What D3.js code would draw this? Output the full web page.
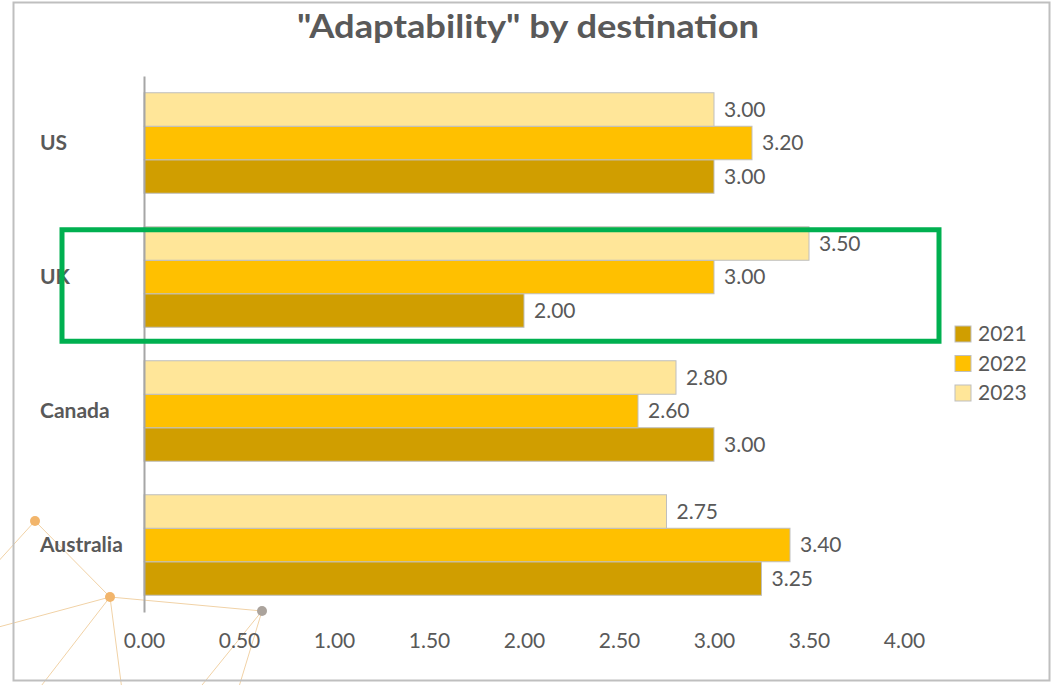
<!DOCTYPE html>
<html>
<head>
<meta charset="utf-8">
<script src="https://cdn.jsdelivr.net/npm/d3@7"></script>
<style>
  html, body { margin: 0; padding: 0; background: #ffffff; }
  svg { display: block; }
  text { font-family: Lato, "Open Sans", "Liberation Sans", sans-serif; }
</style>
</head>
<body>
<svg id="chart" width="1051" height="685"></svg>
<script>
// Chart values
const categories = ["US", "UK", "Canada", "Australia"];
const years = ["2021", "2022", "2023"];
const values2021 = [3.00, 2.00, 3.00, 3.25];
const values2022 = [3.20, 3.00, 2.60, 3.40];
const values2023 = [3.00, 3.50, 2.80, 2.75];
const xTicks = [0, 0.5, 1, 1.5, 2, 2.5, 3, 3.5, 4];
const titleText = "\"Adaptability\" by destination";

const seriesValues = { "2021": values2021, "2022": values2022, "2023": values2023 };
const colors = { "2021": "#D09E00", "2022": "#FFC000", "2023": "#FFE699" };

const svg = d3.select("#chart");
const W = 1051, H = 685;
const margin = { left: 144, right: 146, top: 76, bottom: 73 };
const textColor = "#595959";

// Decorative network in the lower-left corner
const nodes = [
  { x: 35, y: 521, c: "#F2B56B" },
  { x: 110, y: 597, c: "#F2B56B" },
  { x: 262, y: 611, c: "#ABA39C" }
];
const links = [
  [[35, 521], [-5, 565]],
  [[35, 521], [110, 597]],
  [[110, 597], [262, 611]],
  [[110, 597], [-5, 628]],
  [[110, 597], [38, 690]],
  [[110, 597], [122, 690]],
  [[262, 611], [198, 690]],
  [[262, 611], [238, 690]]
];
const deco = svg.append("g");
deco.selectAll("line").data(links).join("line")
  .attr("x1", d => d[0][0]).attr("y1", d => d[0][1])
  .attr("x2", d => d[1][0]).attr("y2", d => d[1][1])
  .attr("stroke", "#F1D2A6").attr("stroke-width", 1);
deco.selectAll("circle").data(nodes).join("circle")
  .attr("cx", d => d.x).attr("cy", d => d.y).attr("r", 5)
  .attr("fill", d => d.c);

// Chart frame
svg.append("rect")
  .attr("x", 13.5).attr("y", 2.5).attr("width", 1036).attr("height", 678)
  .attr("fill", "none").attr("stroke", "#BFBFBF").attr("stroke-width", 2);

// Scales
const x = d3.scaleLinear().domain([0, 4]).range([margin.left, margin.left + 760]);
const y = d3.scaleBand().domain(categories)
  .range([margin.top, H - margin.bottom])
  .paddingInner(0.25).paddingOuter(0.125);
const ySub = d3.scaleBand().domain(["2023", "2022", "2021"]).range([0, y.bandwidth()]);

// Title
svg.append("text")
  .attr("x", 528).attr("y", 38)
  .attr("text-anchor", "middle")
  .attr("font-size", 32).attr("font-weight", "bold")
  .attr("fill", textColor)
  .attr("textLength", 462).attr("lengthAdjust", "spacingAndGlyphs")
  .text(titleText);

// Bars
const groups = svg.append("g").selectAll("g")
  .data(categories).join("g")
  .attr("transform", d => `translate(0,${y(d)})`);

const rows = groups.selectAll("g.bar")
  .data((cat, i) => years.map(yr => ({ year: yr, value: seriesValues[yr][i] })))
  .join("g").attr("class", "bar");

rows.append("rect")
  .attr("x", x(0))
  .attr("y", d => ySub(d.year))
  .attr("width", d => x(d.value) - x(0))
  .attr("height", ySub.bandwidth())
  .attr("fill", d => colors[d.year])
  .attr("stroke", "#BFBFBF").attr("stroke-width", 1);

rows.append("text")
  .attr("x", d => x(d.value) + 10)
  .attr("y", d => ySub(d.year) + ySub.bandwidth() / 2)
  .attr("dy", "0.35em")
  .attr("font-size", 21).attr("fill", textColor)
  .text(d => d3.format(".2f")(d.value));

// Category axis (labels left-aligned inside the frame)
const yAxis = svg.append("g")
  .attr("transform", `translate(${x(0)},0)`)
  .call(d3.axisLeft(y).tickSize(0));
yAxis.select(".domain").attr("stroke", "#A6A6A6").attr("stroke-width", 2);
yAxis.selectAll("text")
  .attr("x", 40 - x(0))
  .attr("text-anchor", "start")
  .attr("font-size", 21).attr("font-weight", "bold").attr("fill", textColor)
  .attr("font-family", "Lato, 'Open Sans', sans-serif");

// Value axis labels
const xAxis = svg.append("g")
  .attr("transform", `translate(0,${H - margin.bottom})`)
  .call(d3.axisBottom(x).tickValues(xTicks).tickFormat(d3.format(".2f")).tickSize(0).tickPadding(21));
xAxis.select(".domain").remove();
xAxis.selectAll("text")
  .attr("font-size", 21).attr("fill", textColor)
  .attr("font-family", "Lato, 'Open Sans', sans-serif");

// Legend
const legend = svg.append("g").attr("transform", "translate(955,326)");
const li = legend.selectAll("g").data(years).join("g")
  .attr("transform", (d, i) => `translate(0,${i * 29.5})`);
li.append("rect").attr("width", 16).attr("height", 16)
  .attr("fill", d => colors[d]).attr("stroke", "#BFBFBF").attr("stroke-width", 1);
li.append("text").attr("x", 23).attr("y", 8).attr("dy", "0.35em")
  .attr("font-size", 21).attr("fill", textColor).text(d => d);

// Highlight box around the UK group
const ukTop = y("UK");
svg.append("rect")
  .attr("x", 62).attr("y", ukTop + 3)
  .attr("width", 877).attr("height", y.bandwidth() + 11)
  .attr("fill", "none").attr("stroke", "#00B050").attr("stroke-width", 5);
</script>
</body>
</html>
